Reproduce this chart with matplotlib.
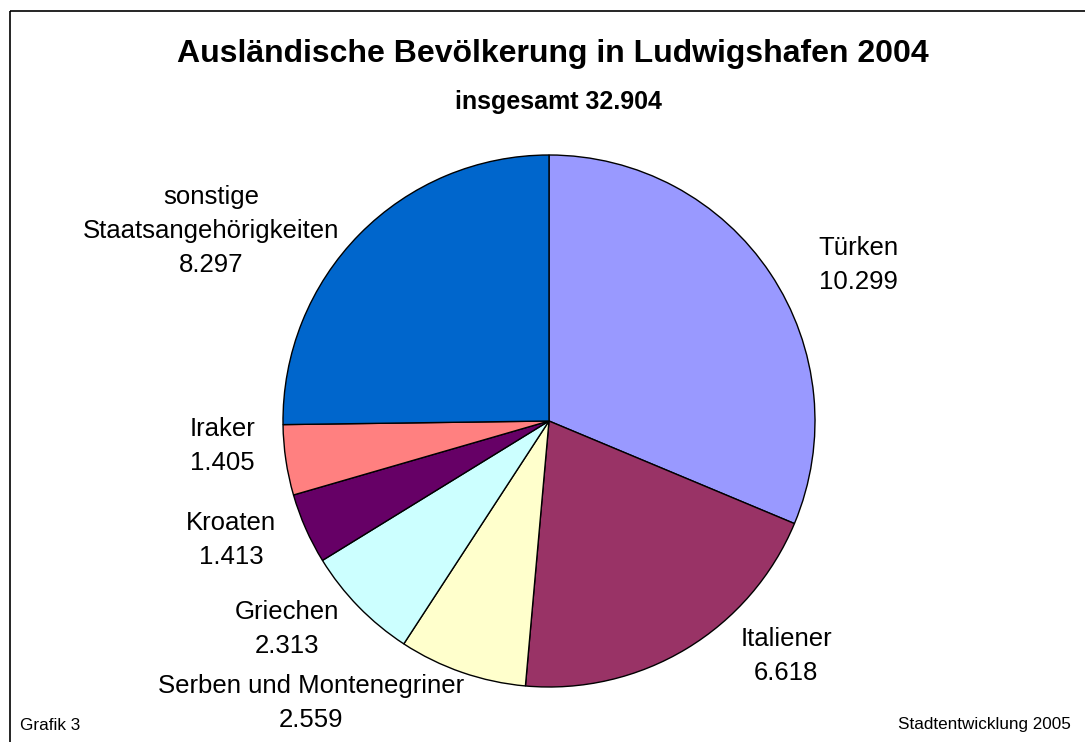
import matplotlib
matplotlib.use("Agg")
import matplotlib.pyplot as plt
from matplotlib.patches import Rectangle

plt.rcParams['font.family'] = ['Liberation Sans', 'DejaVu Sans']

categories = ["Türken", "Italiener", "Serben und Montenegriner", "Griechen",
              "Kroaten", "Iraker", "sonstige\nStaatsangehörigkeiten"]
values = [10299, 6618, 2559, 2313, 1413, 1405, 8297]
value_labels = ["10.299", "6.618", "2.559", "2.313", "1.413", "1.405", "8.297"]
colors = ["#9999FF", "#993366", "#FFFFCC", "#CCFFFF", "#660066", "#FF8080", "#0066CC"]
title = "Ausländische Bevölkerung in Ludwigshafen 2004"
subtitle = "insgesamt 32.904"

W, H = 1085, 742
fig = plt.figure(figsize=(W / 100, H / 100), dpi=100)
ax = fig.add_axes([0, 0, 1, 1])

def py(y):
    return H - y

ax.pie(values, colors=colors, startangle=90, counterclock=False,
       center=(549, py(421)), radius=266, frame=True,
       wedgeprops=dict(edgecolor='black', linewidth=1.0))
ax.set_xlim(0, W)
ax.set_ylim(0, H)
ax.set_aspect('equal')
ax.axis('off')

ax.add_patch(Rectangle((9.5, py(10.5)), W + 20, -(H + 20), fill=False,
                       edgecolor='black', linewidth=1.2, clip_on=True))

label_pos = [(858, 265), (786, 656), (311, 703), (287, 629),
             (231, 540), (222, 446), (211, 231)]
for cat, vl, (x, y) in zip(categories, value_labels, label_pos):
    ax.text(x, py(y), f"{cat}\n{vl}", ha='center', va='center',
            fontsize=18.5, linespacing=1.52)

ax.text(553, py(54), title, ha='center', va='center', fontsize=23, fontweight='bold')
ax.text(558, py(102), subtitle, ha='center', va='center', fontsize=18, fontweight='bold')
ax.text(20, py(725), "Grafik 3", ha='left', va='center', fontsize=12.3)
ax.text(1071, py(724), "Stadtentwicklung 2005", ha='right', va='center', fontsize=12.3)

fig.savefig("out.png", dpi=100)
